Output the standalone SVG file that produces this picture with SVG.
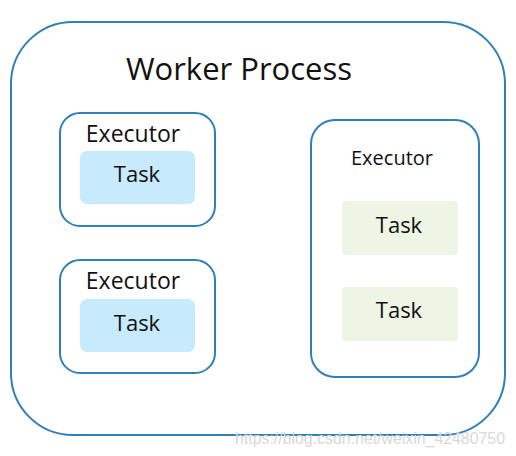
<svg xmlns="http://www.w3.org/2000/svg" width="516" height="456" viewBox="0 0 516 456">
<style>
.box{fill:#fff;stroke:#2f80b9;stroke-width:2}
.t{font-family:"Open Sans","Noto Sans",sans-serif;fill:#111;text-anchor:middle}
.blue{fill:#c7eafc}
.green{fill:#eef5e4}
.wm{font-family:"Liberation Sans",Arial,sans-serif;font-size:16px;fill:#d8d8d8}
</style>
<rect width="516" height="456" fill="#fff"/>
<g id="worker">
<rect class="box" x="11" y="22" width="494" height="413" rx="62"/>
<text class="t" x="239" y="80" font-size="31">Worker Process</text>
</g>
<g id="executor1">
<rect class="box" x="60" y="113" width="155" height="113" rx="20"/>
<text class="t" x="133" y="142" font-size="23">Executor</text>
<rect class="blue" x="80" y="151" width="115" height="53" rx="7"/>
<text class="t" x="137" y="182" font-size="22">Task</text>
</g>
<g id="executor2">
<rect class="box" x="60" y="260" width="155" height="113" rx="20"/>
<text class="t" x="133" y="289" font-size="23">Executor</text>
<rect class="blue" x="80" y="299" width="115" height="53" rx="7"/>
<text class="t" x="137" y="331" font-size="22">Task</text>
</g>
<g id="executor3">
<rect class="box" x="311" y="120" width="168" height="257" rx="24"/>
<text class="t" x="392" y="165" font-size="20">Executor</text>
<rect class="green" x="342" y="201" width="116" height="54" rx="4"/>
<text class="t" x="399" y="233" font-size="22">Task</text>
<rect class="green" x="342" y="287" width="116" height="54" rx="4"/>
<text class="t" x="399" y="318" font-size="22">Task</text>
</g>
<g id="connectors"/>
<text class="wm" x="235" y="444" textLength="270" lengthAdjust="spacingAndGlyphs">https://blog.csdn.net/weixin_42480750</text>
</svg>
